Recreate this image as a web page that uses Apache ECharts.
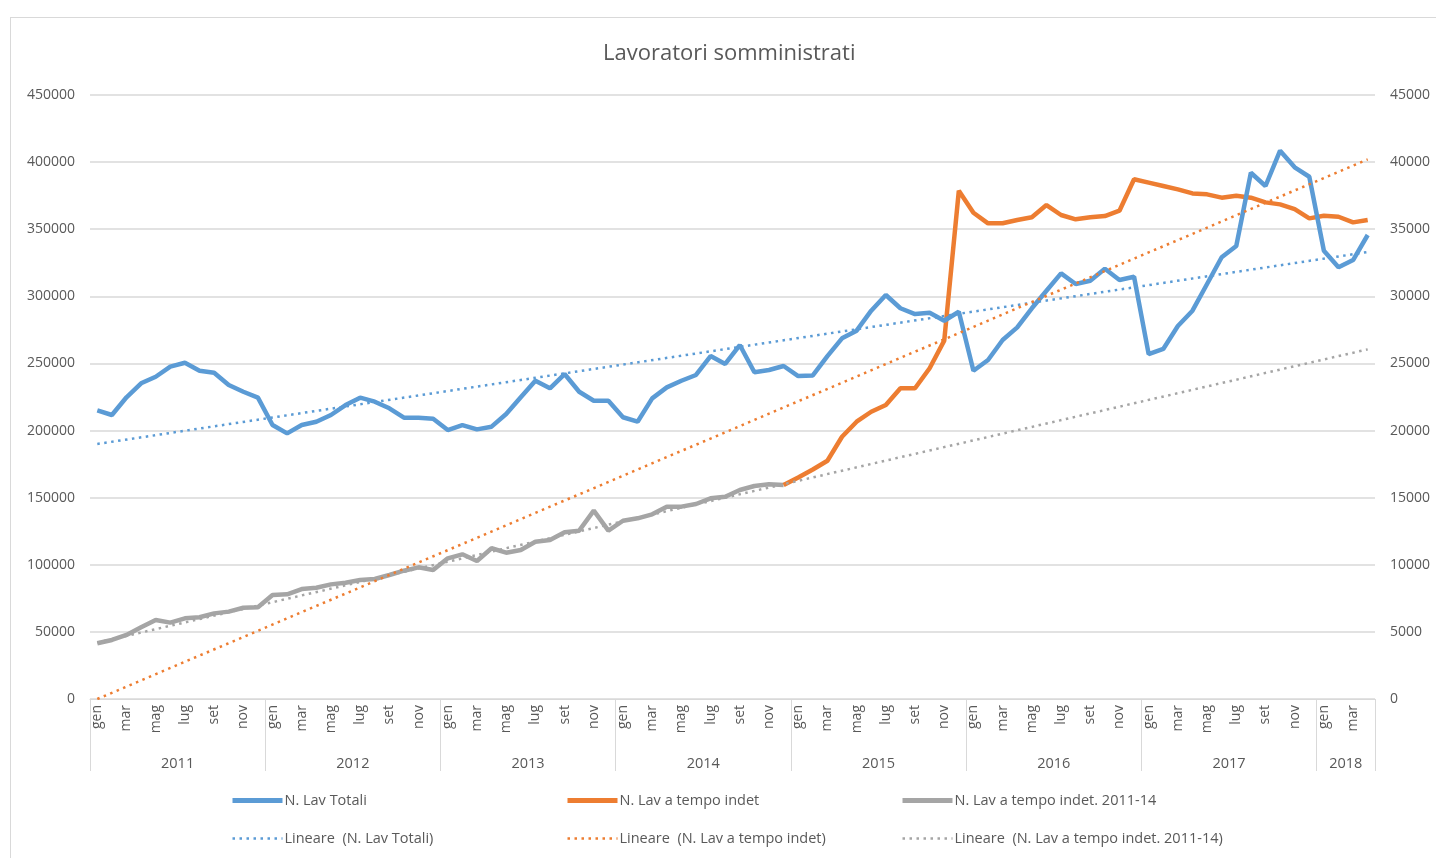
<!DOCTYPE html>
<html>
<head>
    <meta charset="utf-8">
    <title>Lavoratori somministrati</title>
    <script src="https://cdn.jsdelivr.net/npm/echarts@6/dist/echarts.min.js"></script>
    <style>
        body { margin: 0; background: #fff; }
        #frame { position: absolute; left: 10px; top: 17px; width: 1440px; height: 860px; border: 1px solid #d9d9d9; }
        #chart { position: absolute; left: 0; top: 0; width: 1436px; height: 858px; }
    </style>
</head>
<body>
<div id="frame"></div>
<div id="chart"></div>
<script type="text/javascript">
    // mesi e anni dell'asse orizzontale
    var mesi = ['gen', 'feb', 'mar', 'apr', 'mag', 'giu', 'lug', 'ago', 'set', 'ott', 'nov', 'dic'];
    var anni = ['2011', '2012', '2013', '2014', '2015', '2016', '2017', '2018'];
    var mesiPerAnno = [12, 12, 12, 12, 12, 12, 12, 4];

    // N. Lav Totali (asse sinistro)
    var lavTotali = [
        215000, 211600, 224800, 235200, 240100, 247600, 250500, 244600, 243100, 233900, 228900, 224500,
        204100, 197900, 204100, 206600, 211600, 219000, 224500, 221500, 216600, 209600, 209600, 208800,
        200400, 204100, 200900, 202900, 212300, 224800, 237100, 231500, 242100, 228900, 222200, 222200,
        209900, 206600, 224000, 232200, 237100, 241400, 255500, 249600, 263700, 243400, 245100, 248100,
        240600, 241100, 255500, 268700, 274400, 289300, 301000, 291100, 286800, 287800, 281800, 288500,
        244600, 252600, 267500, 276900, 291100, 304200, 317100, 309200, 311600, 320500, 312200, 314600,
        257000, 260800, 277900, 289300, 309200, 329100, 337500, 392100, 382200, 408500, 396100, 389100,
        334000, 321600, 327000, 345700
    ];

    // N. Lav a tempo indet (asse destro), da dic 2014
    var lavIndet = [
        15940, 16500, 17100, 17750, 19540, 20660, 21400, 21900, 23150, 23150, 24640, 26700, 37870,
        36230, 35440, 35440, 35690, 35890, 36800, 36060, 35740, 35890, 35980, 36380, 38720,
        38470, 38220, 37970, 37670, 37600, 37350, 37500, 37350, 37000, 36850, 36500, 35810,
        36010, 35930, 35510, 35690
    ];
    var inizioIndet = 47;

    // N. Lav a tempo indet. 2011-14 (asse destro)
    var lavIndet1114 = [
        4150, 4400, 4770, 5340, 5890, 5690, 6010, 6090, 6380, 6510, 6800, 6830,
        7750, 7800, 8190, 8290, 8540, 8660, 8860, 8940, 9240, 9560, 9810, 9610,
        10480, 10780, 10280, 11230, 10900, 11100, 11720, 11850, 12420, 12540, 14030, 12540,
        13280, 13460, 13760, 14330, 14330, 14530, 14950, 15070, 15570, 15870, 16000, 15940
    ];

    // linee di tendenza: valore al primo e all'ultimo mese
    var trendTotali = [190000, 333000];
    var trendIndet = [0, 40200];
    var trendIndet1114 = [4200, 26050];

    var categorie = [];
    var inizioAnni = [0];
    var centriAnni = [];
    var n = 0;
    for (var a = 0; a < anni.length; a++) {
        centriAnni.push(n + mesiPerAnno[a] / 2);
        for (var m = 0; m < mesiPerAnno[a]; m++) {
            categorie.push(mesi[m]);
        }
        n += mesiPerAnno[a];
        inizioAnni.push(n);
    }

    function riempi(valori, inizio) {
        var out = [];
        for (var i = 0; i < categorie.length; i++) {
            var k = i - inizio;
            out.push(k >= 0 && k < valori.length ? valori[k] : null);
        }
        return out;
    }
    function tendenza(estremi) {
        var out = [];
        for (var i = 0; i < categorie.length; i++) out.push(null);
        out[0] = estremi[0];
        out[categorie.length - 1] = estremi[1];
        return out;
    }

    var font = 'Open Sans';
    var grigioTesto = '#595959';
    var grigioLinee = '#d9d9d9';
    var blu = '#5b9bd5', arancio = '#ed7d31', grigio = '#a5a5a5';

    // voce di legenda: linea spessa per le serie, punteggiata per le tendenze
    function voce(nome, spessa) {
        return spessa ? { name: nome, lineStyle: { width: 5 } } : { name: nome, lineStyle: { width: 2.5 } };
    }

    var myChart = echarts.init(document.getElementById('chart'));
    myChart.setOption({
        animation: false,
        textStyle: { fontFamily: font },
        title: {
            text: 'Lavoratori somministrati',
            left: 598,
            top: 38,
            textStyle: { fontFamily: font, fontSize: 22, fontWeight: 'normal', color: grigioTesto }
        },
        legend: [
            { left: 230, data: [voce('N. Lav Totali', true), voce('Lineare  (N. Lav Totali)')] },
            { left: 565, data: [voce('N. Lav a tempo indet', true), voce('Lineare  (N. Lav a tempo indet)')] },
            { left: 900, data: [voce('N. Lav a tempo indet. 2011-14', true), voce('Lineare  (N. Lav a tempo indet. 2011-14)')] }
        ].map(function (l) {
            l.top = 793;
            l.orient = 'vertical';
            l.padding = 0;
            l.itemGap = 23;
            l.itemWidth = 50;
            l.itemHeight = 14;
            l.itemStyle = { opacity: 0 };
            l.textStyle = { fontFamily: font, fontSize: 14.5, color: grigioTesto, padding: [0, 0, 0, -3] };
            return l;
        }),
        grid: { left: 90, right: 61, top: 95, bottom: 159 },
        xAxis: [{
            type: 'category',
            boundaryGap: true,
            data: categorie,
            axisLine: { lineStyle: { color: grigioLinee } },
            axisTick: { show: false },
            axisLabel: { rotate: 90, interval: 1, margin: 6, fontSize: 14, color: grigioTesto, fontFamily: font }
        }, {
            type: 'value',
            position: 'bottom',
            min: 0,
            max: categorie.length,
            axisLine: { show: false },
            splitLine: { show: false },
            axisTick: { show: true, length: 72, customValues: inizioAnni, lineStyle: { color: grigioLinee } },
            axisLabel: {
                customValues: centriAnni,
                margin: 57,
                fontSize: 14.5,
                color: grigioTesto,
                fontFamily: font,
                formatter: function (v) { return anni[centriAnni.indexOf(v)]; }
            }
        }],
        yAxis: [{
            type: 'value',
            min: 0,
            max: 450000,
            interval: 50000,
            axisLine: { show: false },
            axisTick: { show: false },
            splitLine: { lineStyle: { color: grigioLinee, width: 1.5 } },
            axisLabel: { margin: 15, fontSize: 14, color: grigioTesto, fontFamily: font, formatter: function (v) { return String(v); } }
        }, {
            type: 'value',
            min: 0,
            max: 45000,
            interval: 5000,
            axisLine: { show: false },
            axisTick: { show: false },
            splitLine: { show: false },
            axisLabel: { margin: 15, fontSize: 14, color: grigioTesto, fontFamily: font, formatter: function (v) { return String(v); } }
        }],
        series: [{
            name: 'N. Lav Totali',
            type: 'line',
            yAxisIndex: 0,
            symbol: 'none',
            color: blu,
            lineStyle: { width: 4.5, color: blu },
            data: lavTotali,
            z: 5
        }, {
            name: 'N. Lav a tempo indet',
            type: 'line',
            yAxisIndex: 1,
            symbol: 'none',
            color: arancio,
            lineStyle: { width: 4.5, color: arancio },
            data: riempi(lavIndet, inizioIndet),
            z: 4
        }, {
            name: 'N. Lav a tempo indet. 2011-14',
            type: 'line',
            yAxisIndex: 1,
            symbol: 'none',
            color: grigio,
            lineStyle: { width: 4.5, color: grigio },
            data: riempi(lavIndet1114, 0),
            z: 3
        }, {
            name: 'Lineare  (N. Lav Totali)',
            type: 'line',
            yAxisIndex: 0,
            symbol: 'none',
            connectNulls: true,
            color: blu,
            lineStyle: { width: 2.5, type: [2.5, 4.5], color: blu },
            data: tendenza(trendTotali),
            z: 6
        }, {
            name: 'Lineare  (N. Lav a tempo indet)',
            type: 'line',
            yAxisIndex: 1,
            symbol: 'none',
            connectNulls: true,
            color: arancio,
            lineStyle: { width: 2.5, type: [2.5, 4.5], color: arancio },
            data: tendenza(trendIndet),
            z: 6
        }, {
            name: 'Lineare  (N. Lav a tempo indet. 2011-14)',
            type: 'line',
            yAxisIndex: 1,
            symbol: 'none',
            connectNulls: true,
            color: grigio,
            lineStyle: { width: 2.5, type: [2.5, 4.5], color: grigio },
            data: tendenza(trendIndet1114),
            z: 6
        }]
    });
</script>
</body>
</html>
